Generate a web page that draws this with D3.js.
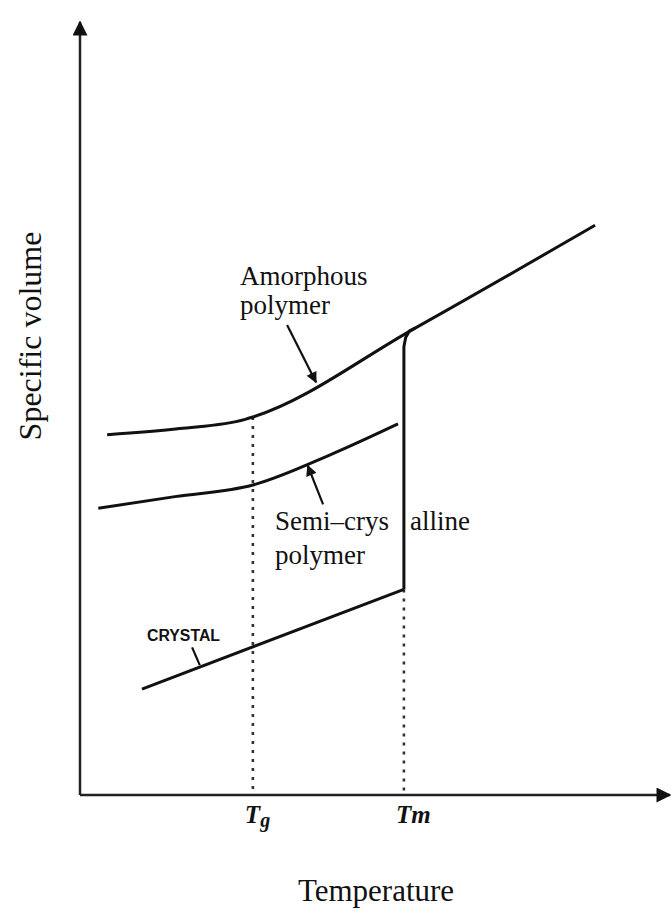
<!DOCTYPE html>
<html>
<head>
<meta charset="utf-8">
<script src="https://cdn.jsdelivr.net/npm/d3@7"></script>
<style>
  body { margin: 0; background: #fff; }
  svg { display: block; }
</style>
</head>
<body>
<script>
// curves in arbitrary units (temperature, specific volume)
const amorphous = [[0.46, 4.66], [1.69, 4.74], [2.80, 4.86], [2.93, 4.89], [5.68, 6.04], [8.73, 7.37]];
const semiCrystalline = [[0.31, 3.71], [1.61, 3.86], [2.93, 4.01], [4.24, 4.40], [5.39, 4.80]];
const crystal = [[1.05, 1.37], [5.49, 2.66]];
const melting = [[5.49, 2.66], [5.49, 5.80], [5.52, 5.92], [5.58, 6.00], [5.68, 6.04]];
const Tg = 2.93;
const Tm = 5.49;
const tickLabels = [{v: Tg, sub: "g"}, {v: Tm, sub: "m"}];
// pointer arrows [from, to]
const pointers = [
  [[3.51, 6.08], [4.00, 5.34]],
  [[4.12, 3.76], [3.86, 4.26]],
  [[1.90, 1.91], [2.03, 1.68]]
];

function main() {
  const width = 671;
  const height = 913;

  const svg = d3.select("body").append("svg")
    .attr("width", width)
    .attr("height", height);

  const x = d3.scaleLinear().domain([0, 10]).range([80, 670]);
  const y = d3.scaleLinear().domain([0, 10]).range([795, 22]);

  const defs = svg.append("defs");
  defs.append("marker")
    .attr("id", "axisHead")
    .attr("viewBox", "0 0 10 10")
    .attr("refX", 9).attr("refY", 5)
    .attr("markerWidth", 7).attr("markerHeight", 6)
    .attr("markerUnits", "strokeWidth")
    .attr("orient", "auto")
    .append("path").attr("d", "M0,0 L10,5 L0,10 Z").attr("fill", "#111");
  defs.append("marker")
    .attr("id", "ptrHead")
    .attr("viewBox", "0 0 10 10")
    .attr("refX", 9).attr("refY", 5)
    .attr("markerWidth", 7).attr("markerHeight", 5)
    .attr("markerUnits", "strokeWidth")
    .attr("orient", "auto")
    .append("path").attr("d", "M0,0 L10,5 L0,10 Z").attr("fill", "#111");

  // axes
  svg.append("line")
    .attr("x1", x(0)).attr("y1", y(0))
    .attr("x2", x(0)).attr("y2", y(10))
    .attr("stroke", "#222").attr("stroke-width", 2.5)
    .attr("marker-end", "url(#axisHead)");
  svg.append("line")
    .attr("x1", x(0)).attr("y1", y(0))
    .attr("x2", x(10)).attr("y2", y(0))
    .attr("stroke", "#222").attr("stroke-width", 2.5)
    .attr("marker-end", "url(#axisHead)");

  // dotted guides
  const guides = [[Tg, amorphous[3][1]], [Tm, crystal[1][1]]];
  svg.selectAll(".guide")
    .data(guides)
    .enter().append("line")
    .attr("class", "guide")
    .attr("x1", d => x(d[0])).attr("x2", d => x(d[0]))
    .attr("y1", d => y(d[1])).attr("y2", y(0))
    .attr("stroke", "#333").attr("stroke-width", 2.6)
    .attr("stroke-dasharray", "3,6");

  const smooth = d3.line().x(d => x(d[0])).y(d => y(d[1])).curve(d3.curveMonotoneX);
  const straight = d3.line().x(d => x(d[0])).y(d => y(d[1]));
  [[amorphous, smooth], [semiCrystalline, smooth], [crystal, straight], [melting, straight]].forEach(([data, gen]) => {
    svg.append("path")
      .attr("d", gen(data))
      .attr("fill", "none")
      .attr("stroke", "#111")
      .attr("stroke-width", 3)
      .attr("stroke-linejoin", "round");
  });

  svg.selectAll(".ptr")
    .data(pointers)
    .enter().append("line")
    .attr("class", "ptr")
    .attr("x1", d => x(d[0][0])).attr("y1", d => y(d[0][1]))
    .attr("x2", d => x(d[1][0])).attr("y2", d => y(d[1][1]))
    .attr("stroke", "#111").attr("stroke-width", 2.2)
    .attr("marker-end", (d, i) => i < 2 ? "url(#ptrHead)" : null);

  // labels
  const serif = "'Liberation Serif', 'Times New Roman', serif";
  const labels = [
    {t: "Amorphous", x: 240, y: 285},
    {t: "polymer", x: 240, y: 314},
    {t: "Semi\u2013crys", x: 275, y: 530},
    {t: "alline", x: 410, y: 530},
    {t: "polymer", x: 275, y: 564}
  ];
  svg.selectAll(".lbl")
    .data(labels)
    .enter().append("text")
    .attr("class", "lbl")
    .attr("x", d => d.x).attr("y", d => d.y)
    .attr("font-family", serif)
    .attr("font-size", "27px")
    .attr("fill", "#111")
    .text(d => d.t);

  svg.append("text")
    .attr("x", 147).attr("y", 641)
    .attr("font-family", "'Liberation Sans', Arial, sans-serif")
    .attr("font-weight", "bold")
    .attr("font-size", "16px")
    .attr("textLength", 73)
    .attr("lengthAdjust", "spacingAndGlyphs")
    .attr("fill", "#111")
    .text("CRYSTAL");

  const tl = svg.selectAll(".tl")
    .data(tickLabels)
    .enter().append("text")
    .attr("class", "tl")
    .attr("x", d => x(d.v) - 8)
    .attr("y", 823)
    .attr("font-family", serif)
    .attr("font-style", "italic")
    .attr("font-weight", "bold")
    .attr("font-size", "25px")
    .attr("fill", "#111");
  tl.append("tspan").text("T");
  tl.append("tspan")
    .attr("font-size", d => d.sub === "g" ? "20px" : "25px")
    .attr("dy", d => d.sub === "g" ? 4 : 0)
    .text(d => d.sub);

  svg.append("text")
    .attr("x", 376).attr("y", 901)
    .attr("text-anchor", "middle")
    .attr("font-family", serif)
    .attr("font-size", "31px")
    .attr("fill", "#111")
    .text("Temperature");

  svg.append("text")
    .attr("transform", "translate(41,336) rotate(-90)")
    .attr("text-anchor", "middle")
    .attr("font-family", serif)
    .attr("font-size", "32px")
    .attr("fill", "#111")
    .text("Specific volume");
}

main();
</script>
</body>
</html>
